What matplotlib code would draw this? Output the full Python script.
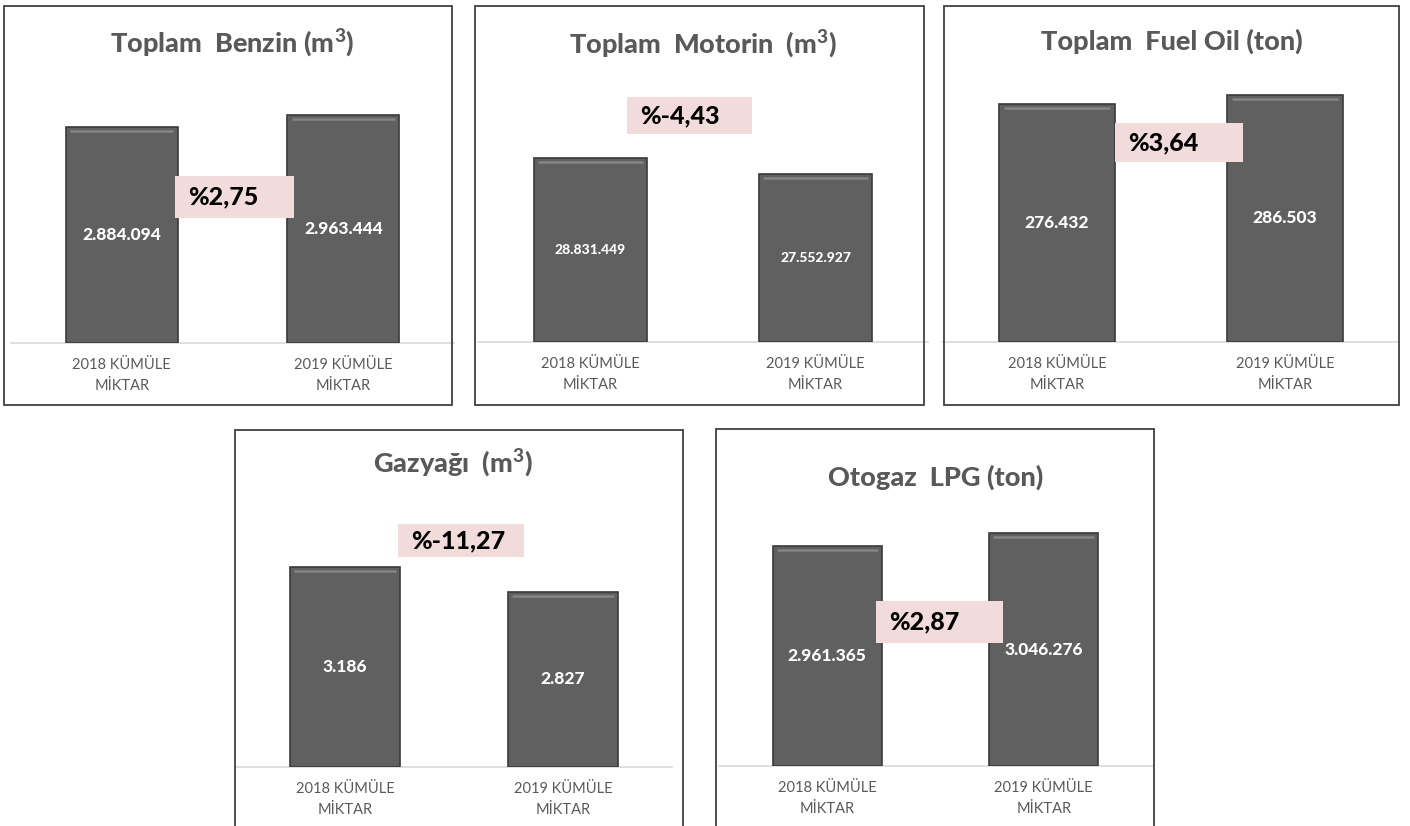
import matplotlib
matplotlib.use("Agg")
import matplotlib.pyplot as plt
from matplotlib.patches import Rectangle

plt.rcParams['font.family'] = ['Lato', 'DejaVu Sans']
plt.rcParams['mathtext.fontset'] = 'custom'
plt.rcParams['mathtext.rm'] = 'Lato'
plt.rcParams['mathtext.bf'] = 'Lato:black'

# ---------------- data ----------------
categories = ["2018 KÜMÜLE\nMİKTAR", "2019 KÜMÜLE\nMİKTAR"]
titles = ["Toplam  Benzin (m$^\\mathbf{3}$)", "Toplam  Motorin  (m$^\\mathbf{3}$)",
          "Toplam  Fuel Oil (ton)", "Gazyağı  (m$^\\mathbf{3}$)", "Otogaz  LPG (ton)"]
benzin = [2884094, 2963444]
motorin = [28831449, 27552927]
fuel_oil = [276432, 286503]
gazyagi = [3186, 2827]
lpg = [2961365, 3046276]
value_labels = [["2.884.094", "2.963.444"], ["28.831.449", "27.552.927"],
                ["276.432", "286.503"], ["3.186", "2.827"], ["2.961.365", "3.046.276"]]
pct_labels = ["%2,75", "%-4,43", "%3,64", "%-11,27", "%2,87"]
# value-axis ranges (axis minimum, axis maximum) per chart
y_ranges = [(1.40e6, 3.7155e6), (14.0e6, 41.08e6), (15000, 384068),
            (300, 5163), (1.50e6, 3.7386e6)]
series = [benzin, motorin, fuel_oil, gazyagi, lpg]

# ---------------- layout (pixels) ----------------
W, H = 1410, 826
fig = plt.figure(figsize=(W / 100, H / 100), dpi=100)
fig.patch.set_facecolor('white')

def fx(x):
    return x / W

def fy(y):
    return 1 - y / H

# outer box: x0, y0, x1, y1
boxes = [(4, 6, 452, 405), (475, 6, 924, 405), (944, 6, 1399, 405),
         (235, 430, 683, 840), (716, 429, 1154, 840)]
# plot area: x0, x1, baseline y, top y
plot_areas = [(11, 454, 343, 6), (478, 928, 342, 6), (943, 1399, 342, 6),
              (236, 672, 767, 430), (719, 1152, 766, 429)]
# title: center x, baseline y
title_pos = [(232, 52), (703, 53), (1172, 50), (453, 472), (936, 486)]
# percent box: x0, y0, x1, y1
pct_boxes = [(175, 176, 294, 218), (627, 97, 752, 134), (1115, 123, 1243, 162),
             (398, 524, 524, 557), (876, 601, 1003, 643)]
value_fs = [12.5, 10, 12.5, 12.5, 12.5]

title_color = '#595959'
bar_color = '#606060'
bar_edge = '#3a3a3a'
pct_color = '#f2dcdb'
heavy = 900

for i in range(5):
    bx0, by0, bx1, by1 = boxes[i]
    fig.patches.append(Rectangle((fx(bx0), fy(by1)), fx(bx1 - bx0), (by1 - by0) / H,
                                 transform=fig.transFigure, fill=False,
                                 edgecolor='#404040', linewidth=1.3, zorder=0))

    px0, px1, pbase, ptop = plot_areas[i]
    ax = fig.add_axes([fx(px0), fy(pbase), fx(px1 - px0), (pbase - ptop) / H])
    ax.set_facecolor('none')
    vals = series[i]
    lo, hi = y_ranges[i]
    xs = list(range(len(categories)))
    bars = ax.bar(xs, [v - lo for v in vals], bottom=lo, width=0.505,
                  color=bar_color, edgecolor=bar_edge, linewidth=1.2, zorder=3)
    # bevel highlight near bar top
    for b in bars:
        x0 = b.get_x()
        w = b.get_width()
        top = b.get_y() + b.get_height()
        ax.plot([x0 + w * 0.04, x0 + w * 0.96], [top - (hi - lo) * 0.011] * 2,
                color='#858585', linewidth=1.8, solid_capstyle='butt', zorder=4)
    ax.set_xlim(-0.5, 1.5)
    ax.set_ylim(lo, hi)
    for s in ['top', 'right', 'left']:
        ax.spines[s].set_visible(False)
    ax.spines['bottom'].set_color('#d9d9d9')
    ax.spines['bottom'].set_linewidth(1.2)
    ax.set_yticks([])
    ax.set_xticks(xs)
    ax.set_xticklabels(categories, fontsize=10.5, color=title_color)
    ax.tick_params(axis='x', length=0, pad=11)
    for lbl in ax.get_xticklabels():
        lbl.set_linespacing(1.62)

    for x, v, txt in zip(xs, vals, value_labels[i]):
        ax.text(x, (lo + v) / 2, txt, ha='center', va='center', color='white',
                fontsize=value_fs[i], fontweight=heavy, zorder=5)

    tx, ty = title_pos[i]
    fig.text(fx(tx), fy(ty), titles[i], ha='center', va='baseline',
             fontsize=19.5, fontweight=heavy, color=title_color)

    qx0, qy0, qx1, qy1 = pct_boxes[i]
    fig.patches.append(Rectangle((fx(qx0), fy(qy1)), fx(qx1 - qx0), (qy1 - qy0) / H,
                                 transform=fig.transFigure, facecolor=pct_color,
                                 edgecolor='none', zorder=6))
    fig.text(fx(qx0 + 13), fy((qy0 + qy1) / 2), pct_labels[i], ha='left', va='center',
             fontsize=18, fontweight=heavy, color='black', zorder=7)

fig.savefig('out.png', dpi=100, facecolor='white')
